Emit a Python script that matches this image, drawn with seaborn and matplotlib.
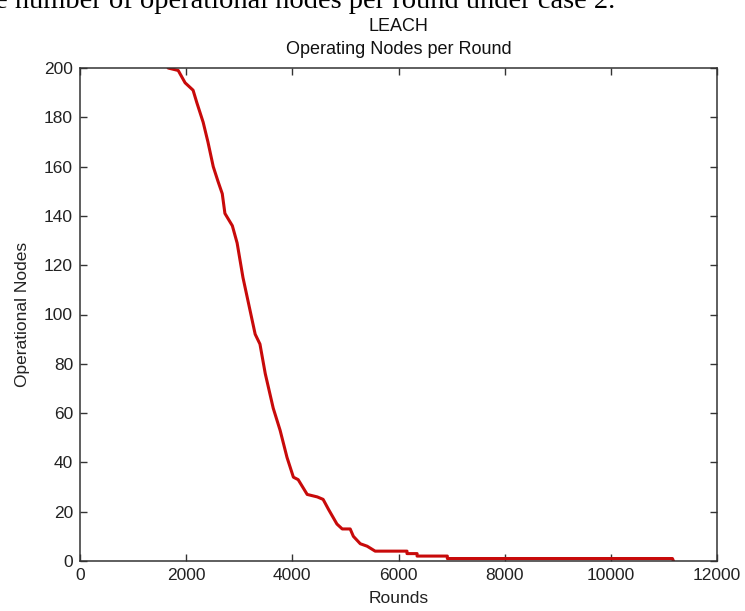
import matplotlib
matplotlib.use("Agg")
import matplotlib.pyplot as plt
import seaborn as sns
import pandas as pd

# LEACH - operating nodes per round
rounds = [1660, 1850, 1980, 2130, 2200, 2320, 2410, 2510, 2600, 2680, 2730,
          2870, 2960, 3070, 3200, 3300, 3390, 3490, 3640, 3770, 3900, 4020,
          4110, 4280, 4470, 4580, 4680, 4840, 4940, 5090, 5150, 5280, 5410,
          5560, 6160, 6160, 6350, 6350, 6920, 6920, 11160, 11180]
nodes = [200, 199, 194, 191, 186, 178, 170, 160, 154, 149, 141,
         136, 129, 115, 102, 92, 88, 76, 62, 53, 42, 34,
         33, 27, 26, 25, 21, 15, 13, 13, 10, 7, 6,
         4, 4, 3, 3, 2, 2, 1, 1, 0]

xticks = [0, 2000, 4000, 6000, 8000, 10000, 12000]
yticks = [0, 20, 40, 60, 80, 100, 120, 140, 160, 180, 200]

df = pd.DataFrame({"Rounds": rounds, "Operational Nodes": nodes})

sns.set_theme(style="white")
plt.rcParams["font.family"] = ["Liberation Sans", "DejaVu Sans"]

fig = plt.figure(figsize=(7.45, 6.11), dpi=100)
ax = fig.add_axes([80 / 745, 1 - 561 / 611, 637 / 745, 493 / 611])

sns.lineplot(data=df, x="Rounds", y="Operational Nodes", ax=ax,
             sort=False, estimator=None, color="#c80a0a", linewidth=2.2)

ax.set_xlim(0, 12000)
ax.set_ylim(0, 200)
ax.set_xticks(xticks)
ax.set_yticks(yticks)
ax.tick_params(axis="both", which="both", direction="in", length=5, width=1,
               color="#333333", labelsize=12.5, labelcolor="#222222",
               top=True, right=True, left=True, bottom=True, pad=5)
for s in ax.spines.values():
    s.set_visible(True)
    s.set_color("#333333")
    s.set_linewidth(1.1)

ax.set_xlabel("Rounds", fontsize=12.5, color="#222222", labelpad=6)
ax.set_ylabel("Operational Nodes", fontsize=12.5, color="#222222", labelpad=10)
ax.set_title("LEACH\nOperating Nodes per Round", fontsize=13,
             color="#111111", pad=10, linespacing=1.5)

# caption text cut off at the top of the image, as in the source page
fig.text(615 / 745, 1 - 7.5 / 611, "the number of operational nodes per round under case 2.",
         ha="right", va="baseline", fontsize=20.5, family="Liberation Serif",
         color="black")

fig.savefig("out.png", dpi=100)
